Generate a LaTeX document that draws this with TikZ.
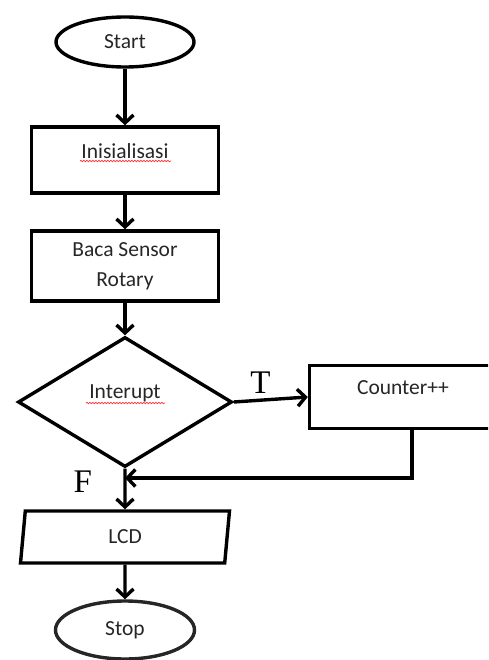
\documentclass[tikz,border=0pt]{standalone}
\usepackage{fontspec}
\setmainfont{Carlito}
\newfontfamily\tfserif{Liberation Serif}
\usetikzlibrary{arrows.meta, positioning, shapes.geometric, decorations.pathmorphing}
\tikzset{
        x=1pt, y=1pt,
        >={Straight Barb[length=8pt,width=17pt]}, % open barbed heads
        every node/.style={text=black!85, font=\fontsize{21.5}{30}\selectfont},
        line/.style={line width=3.4pt, ->},
        terminal/.style={draw, ellipse, line width=3.4pt, inner sep=0pt, minimum width=138pt, minimum height=50pt},
        process/.style={draw, rectangle, line width=3.4pt, minimum width=187pt, minimum height=66pt},
        decision/.style={draw, diamond, aspect=1.65, line width=3.4pt, inner sep=0pt, minimum width=214pt, minimum height=130pt},
        io/.style={draw, trapezium, trapezium left angle=77, trapezium right angle=103, trapezium stretches body, line width=3.4pt, minimum width=209pt, minimum height=52pt},
        lbl/.style={text=black, font=\tfserif\fontsize{33}{33}\selectfont},
        squiggle/.style={red!80, line width=0.7pt, decorate, decoration={snake, amplitude=0.7pt, segment length=3pt}},
    }
\begin{document}
\begin{tikzpicture}
    \clip (0,0) rectangle (488,-660);
    \node[terminal] (start) at (125,-42) {Start};
    \node[process, below of=start, node distance=118pt, text depth=18pt] (init) {Inisialisasi};
    \node[process, below of=init, node distance=106pt, minimum height=70pt, align=center] (baca) {Baca Sensor\\Rotary};
    \node[decision, below of=baca, node distance=136pt, text depth=20pt] (dec) {Interupt};
    \node[process, right of=dec, node distance=278pt, yshift=5pt, minimum height=63pt, text depth=18pt] (counter) {Counter++};
    \node[io, below of=dec, node distance=135pt] (lcd) {LCD};
    \node[terminal, below of=lcd, node distance=93pt, draw=black!85, minimum width=139pt, minimum height=58pt] (stop) {Stop};
    \coordinate (merge) at (125,-478);
    % spell-check marks
    \draw[squiggle] ([shift={(-45pt,-1pt)}]init.center) -- ++(91pt,0);
    \draw[squiggle] ([shift={(-39pt,-1pt)}]dec.center) -- ++(79pt,0);
    % connectors
    \draw[line] (start) -- (init);
    \draw[line] (init) -- (baca);
    \draw[line] (baca) -- (dec);
    \draw[line] (dec.east) -- node[lbl, pos=0.36, above=2pt] {T} (counter.west);
    \draw[line] (dec.south) -- node[lbl, pos=0.33, left=28pt] {F} (lcd.north);
    \draw[line] ([xshift=9pt]counter.south) |- (merge);
    \draw[line] (lcd) -- (stop);
\end{tikzpicture}
\end{document}
